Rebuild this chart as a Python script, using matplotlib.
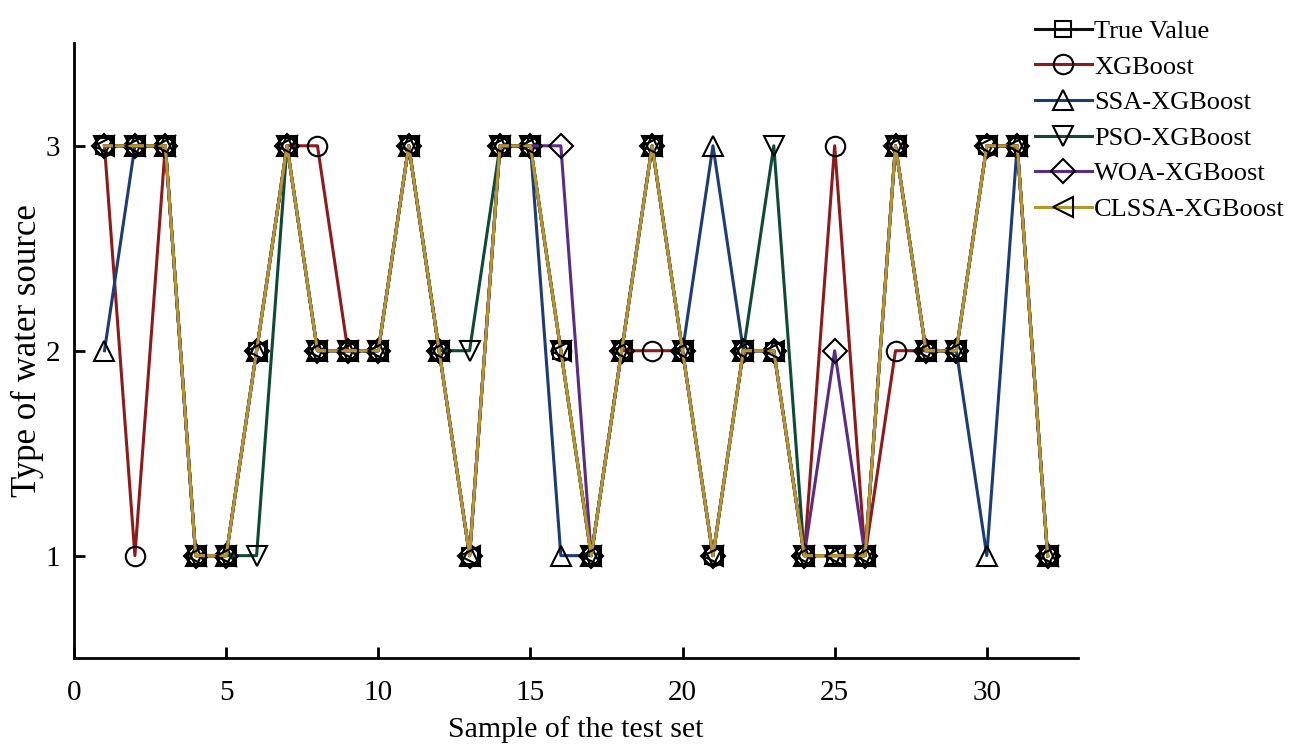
import numpy as np
import matplotlib
matplotlib.use('Agg')
import matplotlib.pyplot as plt

# Data
samples = list(range(1, 33))
true_value = [3, 3, 3, 1, 1, 2, 3, 2, 2, 2, 3, 2, 1, 3, 3, 2,
              1, 2, 3, 2, 1, 2, 2, 1, 1, 1, 3, 2, 2, 3, 3, 1]
xgboost = [3, 1, 3, 1, 1, 2, 3, 3, 2, 2, 3, 2, 1, 3, 3, 2,
           1, 2, 2, 2, 1, 2, 2, 1, 3, 1, 2, 2, 2, 3, 3, 1]
ssa_xgb = [2, 3, 3, 1, 1, 2, 3, 2, 2, 2, 3, 2, 1, 3, 3, 1,
           1, 2, 3, 2, 3, 2, 2, 1, 1, 1, 3, 2, 2, 1, 3, 1]
pso_xgb = [3, 3, 3, 1, 1, 1, 3, 2, 2, 2, 3, 2, 2, 3, 3, 2,
           1, 2, 3, 2, 1, 2, 3, 1, 1, 1, 3, 2, 2, 3, 3, 1]
woa_xgb = [3, 3, 3, 1, 1, 2, 3, 2, 2, 2, 3, 2, 1, 3, 3, 3,
           1, 2, 3, 2, 1, 2, 2, 1, 2, 1, 3, 2, 2, 3, 3, 1]
clssa_xgb = [3, 3, 3, 1, 1, 2, 3, 2, 2, 2, 3, 2, 1, 3, 3, 2,
             1, 2, 3, 2, 1, 2, 2, 1, 1, 1, 3, 2, 2, 3, 3, 1]

names = ['True Value', 'XGBoost', 'SSA-XGBoost', 'PSO-XGBoost',
         'WOA-XGBoost', 'CLSSA-XGBoost']
series = [true_value, xgboost, ssa_xgb, pso_xgb, woa_xgb, clssa_xgb]
colors = ['#111111', '#8E1B1B', '#1C3C78', '#0E4B36', '#5B2C86', '#B8952C']
markers = ['s', 'o', '^', 'v', 'D', '<']
msizes = [12, 14, 15, 15, 12, 15]

plt.rcParams['font.family'] = ['Liberation Serif', 'DejaVu Serif']

fig = plt.figure(figsize=(12.9, 7.47), dpi=100)
ax = fig.add_axes([0.0574, 0.119, 0.7783, 0.823])

for vals, name, c, m, ms in zip(series, names, colors, markers, msizes):
    ax.plot(samples, vals, color=c, lw=2.2, marker=m, markersize=ms,
            markerfacecolor='none', markeredgecolor='black',
            markeredgewidth=1.5, label=name)

ax.set_xlim(0, 33)
ax.set_ylim(0.5, 3.5)
ax.set_xticks([0, 5, 10, 15, 20, 25, 30])
ax.set_yticks([1, 2, 3])
ax.tick_params(direction='in', length=8, width=2, labelsize=21)
ax.tick_params(axis='x', pad=16)
ax.tick_params(axis='y', pad=10)
ax.spines['top'].set_visible(False)
ax.spines['right'].set_visible(False)
ax.spines['left'].set_linewidth(2)
ax.spines['bottom'].set_linewidth(2)

ax.set_xlabel('Sample of the test set', fontsize=21.5, labelpad=7)
ax.set_ylabel('Type of water source', fontsize=25, labelpad=1)

ax.legend(loc='upper left', bbox_to_anchor=(0.794, 0.988),
          bbox_transform=fig.transFigure, frameon=False, fontsize=19,
          handlelength=2.15, handletextpad=0.1, labelspacing=0.46,
          borderaxespad=0)

fig.savefig('out.png', dpi=100)
